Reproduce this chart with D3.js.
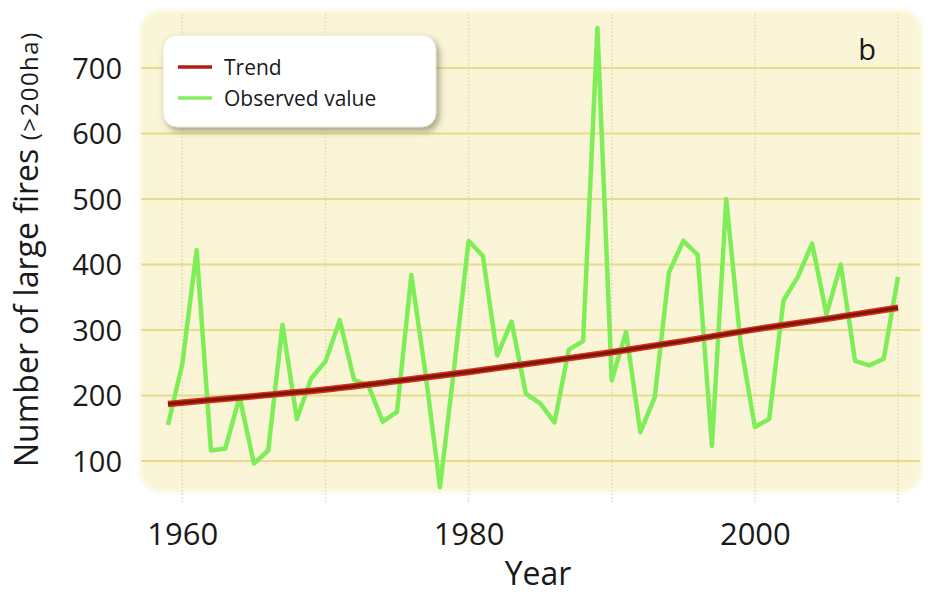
<!DOCTYPE html>
<html>
<head>
<meta charset="utf-8">
<script src="https://cdn.jsdelivr.net/npm/d3@7"></script>
<style>
  body { margin: 0; background: #fff; }
  svg { display: block; font-family: "Open Sans", sans-serif; }
  .tick-label { fill: #1a1a1a; }
</style>
</head>
<body>
<div class="chart-fires"><svg></svg></div>
<script>
// datos
const startYear = 1959;
const observed = [
    155, 248, 422, 116, 119, 198, 96, 116, 308, 164,
    226, 252, 315, 224, 215, 160, 175, 384, 232, 60,
    244, 436, 413, 261, 313, 203, 188, 159, 270, 283,
    761, 223, 297, 144, 197, 388, 436, 415, 123, 500,
    280, 152, 164, 345, 381, 432, 324, 400, 253, 246,
    256, 381
];
const trendYears = [1959, 1965, 1970, 1975, 1980, 1985, 1990, 1995, 2000, 2005, 2010];
const trendValues = [187, 199, 209, 222, 236, 251, 266, 283, 301, 317, 334];
const yTicks = [100, 200, 300, 400, 500, 600, 700];
const xTicks = [1960, 1980, 2000];
const xGrid = [1960, 1970, 1980, 1990, 2000, 2010];
const legendLabels = ['Trend', 'Observed value'];

const firesChart = () => {
    const width = 928;
    const height = 596;
    const panel = { x0: 140, x1: 922, y0: 10, y1: 492 };
    const svg = d3.select('.chart-fires svg')
        .attr('width', width)
        .attr('height', height);

    const scales = {
        x: d3.scaleLinear().domain([1959, 2010]).range([168, 898]),
        y: d3.scaleLinear().domain([100, 700]).range([461, 68])
    };

    const data = observed.map((v, i) => ({ year: startYear + i, value: v }));
    const trend = trendYears.map((yr, i) => ({ year: yr, value: trendValues[i] }));

    const defs = svg.append('defs');
    defs.append('filter').attr('id', 'soft')
        .attr('x', '-5%').attr('y', '-5%').attr('width', '110%').attr('height', '110%')
        .append('feGaussianBlur').attr('stdDeviation', 2.5);
    const shadow = defs.append('filter').attr('id', 'shadow')
        .attr('x', '-10%').attr('y', '-20%').attr('width', '125%').attr('height', '150%');
    shadow.append('feDropShadow')
        .attr('dx', 3).attr('dy', 4).attr('stdDeviation', 3)
        .attr('flood-color', '#6b6540').attr('flood-opacity', 0.55);

    // fondo amarillo
    svg.append('rect')
        .attr('x', panel.x0).attr('y', panel.y0)
        .attr('width', panel.x1 - panel.x0).attr('height', panel.y1 - panel.y0)
        .attr('rx', 22)
        .attr('fill', '#f9f5d6')
        .attr('filter', 'url(#soft)');

    // rejilla
    svg.append('g').selectAll('line')
        .data(xGrid)
        .join('line')
        .attr('x1', d => scales.x(d)).attr('x2', d => scales.x(d))
        .attr('y1', panel.y0 + 4).attr('y2', 502)
        .attr('stroke', '#e2dcaa')
        .attr('stroke-width', 1.5)
        .attr('stroke-dasharray', '1.5,2');

    svg.append('g').selectAll('line')
        .data(yTicks)
        .join('line')
        .attr('x1', panel.x0 + 1).attr('x2', panel.x1 - 2)
        .attr('y1', d => scales.y(d)).attr('y2', d => scales.y(d))
        .attr('stroke', '#e8dc8c')
        .attr('stroke-width', 2);

    // ejes (solo etiquetas)
    const axisY = d3.axisLeft(scales.y).tickValues(yTicks).tickSize(0).tickPadding(0);
    const gy = svg.append('g').attr('transform', 'translate(122,0)').call(axisY);
    gy.select('.domain').remove();
    gy.selectAll('text')
        .attr('class', 'tick-label')
        .attr('font-size', 29)
        .attr('font-family', '"Open Sans", sans-serif')
        .attr('dy', '0.36em');

    const axisX = d3.axisBottom(scales.x).tickValues(xTicks).tickFormat(d3.format('d')).tickSize(0).tickPadding(0);
    const gx = svg.append('g').attr('transform', 'translate(0,545)').call(axisX);
    gx.select('.domain').remove();
    gx.selectAll('text')
        .attr('class', 'tick-label')
        .attr('font-size', 31)
        .attr('font-family', '"Open Sans", sans-serif')
        .attr('dy', 0);

    svg.append('text')
        .attr('x', 538).attr('y', 585)
        .attr('text-anchor', 'middle')
        .attr('font-size', 32)
        .attr('fill', '#1a1a1a')
        .text('Year');

    const yTitle = svg.append('text')
        .attr('transform', 'translate(38,467) rotate(-90)')
        .attr('fill', '#1a1a1a');
    yTitle.append('tspan').attr('font-size', 32).text('Number of large fires ');
    yTitle.append('tspan').attr('font-size', 24).attr('letter-spacing', 1.5).text('(>200ha)');

    svg.append('text')
        .attr('x', 867).attr('y', 60)
        .attr('text-anchor', 'middle')
        .attr('font-size', 29)
        .attr('fill', '#1a1a1a')
        .text('b');

    // series
    const line = d3.line()
        .x(d => scales.x(d.year))
        .y(d => scales.y(d.value));

    svg.append('path')
        .datum(data)
        .attr('fill', 'none')
        .attr('stroke', '#7eee58')
        .attr('stroke-width', 4.5)
        .attr('stroke-linejoin', 'round')
        .attr('d', line);

    const trendLine = d3.line()
        .x(d => scales.x(d.year))
        .y(d => scales.y(d.value))
        .curve(d3.curveMonotoneX);

    svg.append('path')
        .datum(trend)
        .attr('fill', 'none')
        .attr('stroke', '#d8301f')
        .attr('stroke-width', 6.5)
        .attr('d', trendLine);
    svg.append('path')
        .datum(trend)
        .attr('fill', 'none')
        .attr('stroke', '#821709')
        .attr('stroke-width', 3.5)
        .attr('d', trendLine);

    // leyenda
    const legend = svg.append('g');
    legend.append('rect')
        .attr('x', 163).attr('y', 35)
        .attr('width', 273).attr('height', 92)
        .attr('rx', 14)
        .attr('fill', '#fff')
        .attr('stroke', '#e6e3d0')
        .attr('filter', 'url(#shadow)');

    const swatchColors = ['#b31d12', '#86ec62'];
    const items = legend.selectAll('.item')
        .data(legendLabels)
        .join('g')
        .attr('class', 'item')
        .attr('transform', (d, i) => 'translate(0,' + (67 + i * 31) + ')');
    items.append('line')
        .attr('x1', 178).attr('x2', 212)
        .attr('stroke', (d, i) => swatchColors[i])
        .attr('stroke-width', 3.5);
    items.append('text')
        .attr('x', 224).attr('y', 8)
        .attr('font-size', 21)
        .attr('fill', '#1a1a1a')
        .text(d => d);
};

firesChart();
</script>
</body>
</html>
